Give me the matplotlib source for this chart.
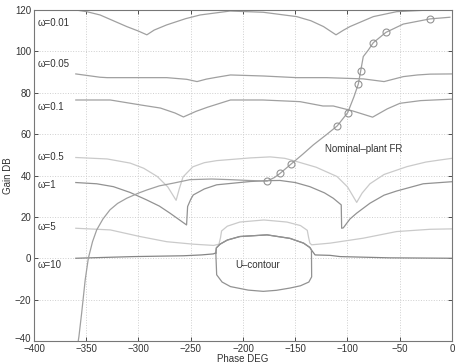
import matplotlib
matplotlib.use("Agg")
import matplotlib.pyplot as plt
import matplotlib.transforms as mtransforms

plt.rcParams['font.family'] = ['Liberation Sans', 'DejaVu Sans']

# ---- data (phase deg, gain dB) ----
w001_ph = [-360, -349.6, -336.8, -311.3, -300, -292, -285, -273, -255, -241, -212.4, -180.6, -148.6, -135, -123, -111, -104, -97.6, -75.3, -52.9, -21, 0]
w001_g  = [120, 119.2, 117.6, 112, 109.8, 108, 110.3, 112.8, 115.8, 117.6, 119.5, 118.9, 116.8, 114.8, 112, 108, 110.2, 112, 116.8, 119.2, 120, 120]

w005_ph = [-360, -336.8, -330, -300, -273, -253.9, -244, -235, -225, -212, -180.6, -148.6, -120, -84.9, -65, -55, -46.6, -33, -21, 0]
w005_g  = [89.1, 87.5, 87.3, 87.3, 87.3, 86.5, 85.4, 86.6, 87.5, 88.6, 88.1, 87.3, 87.3, 86.7, 85.4, 86.7, 87.8, 88.6, 89, 89.1]

w01_ph = [-360, -327, -298, -279, -265, -257, -245, -234, -212, -181, -145.5, -123.5, -113.6, -95, -76, -62, -49.8, -30, 0]
w01_g  = [76.5, 76.5, 74.1, 72.6, 70.2, 68.3, 71, 73, 76.5, 76.5, 75.7, 73.6, 73.6, 71.2, 68.2, 72.2, 74.9, 76.2, 76.9]

w05_ph = [-360, -330, -308, -295, -282, -272, -264, -261, -257.4, -248, -237, -225, -193, -174, -160, -151.7, -130, -110, -100, -91.2, -86, -78.5, -65, -43, -25, -11.5, 0]
w05_g  = [48.7, 48.0, 46.0, 43.5, 39.5, 34.5, 28.0, 33.5, 39.3, 44.2, 46.2, 47.2, 48.5, 49.0, 48.3, 47.2, 44.0, 39.5, 34.5, 27.0, 31.5, 36.0, 40.5, 44.3, 46.5, 47.5, 48.3]

w1_ph = [-360, -340, -324, -308, -292.2, -280, -269.9, -254, -253, -250, -247.6, -237, -225.2, -193, -177, -164.6, -150, -136, -122, -113.6, -106, -105.6, -104, -97.6, -91.2, -78.5, -65, -53, -27.5, 0]
w1_g  = [36.6, 36.0, 34.6, 31.8, 28.2, 25.2, 21.8, 16.1, 25.0, 28.5, 30.6, 33.5, 35.5, 37.1, 37.5, 37.6, 36.6, 34.6, 31.6, 29.0, 25.8, 14.5, 14.7, 19.0, 21.8, 26.6, 30.5, 32.5, 36.0, 37.0]

w5_ph = [-360, -327, -298.6, -273, -247.6, -228, -223, -221.5, -220.5, -215, -203, -180, -158, -145, -138.5, -137.2, -136, -134.3, -116.7, -84.9, -53, -21, 0]
w5_g  = [14.5, 13.7, 10.5, 8.0, 6.8, 6.2, 6.8, 10.0, 13.2, 15.5, 17.5, 18.5, 17.5, 15.8, 13.5, 10.0, 7.3, 6.5, 7.3, 9.7, 12.9, 14.0, 14.2]

w10_ph = [-360, -305, -257, -240, -228.4, -226, -225.5, -222, -215, -203, -177, -155, -142, -136, -134.5, -131, -116.7, -107, -60, 0]
w10_g  = [0.0, 0.8, 1.2, 1.6, 2.1, 2.6, 5.0, 6.8, 8.8, 10.5, 11.3, 9.6, 7.3, 5.2, 4.0, 1.6, 1.4, 0.8, 0.2, 0.0]

u_ph = [-226, -225.5, -222, -215, -203, -177, -155, -142, -136, -134.5, -134.3, -137, -145, -155, -168, -180.6, -195, -212, -220, -225.2, -226]
u_g  = [2.5, 5.0, 6.8, 8.8, 10.5, 11.3, 9.6, 7.3, 5.2, 4.0, -9.0, -11.5, -13.3, -14.4, -15.5, -16.0, -15.4, -13.7, -11.5, -8.0, 2.5]

nom_ph = [-357.8, -357, -354.4, -351, -348, -344, -340, -334, -327.3, -320, -311.3, -300, -292, -280, -266.7, -250.7, -230, -212.4, -195, -177, -170, -164.6, -154.3, -143, -132.7, -120, -109.8, -99.8, -93.8, -89.6, -87.4, -84.9, -80, -75.3, -63.2, -46.6, -21, -2]
nom_g  = [-40.5, -37.8, -26.5, -10.4, 0.0, 8.0, 13.7, 19.0, 23.4, 26.5, 29.0, 31.5, 33.0, 35.0, 36.3, 38.0, 38.3, 38.0, 37.6, 37.3, 39.0, 41.0, 45.4, 50.2, 54.8, 59.8, 64.0, 70.4, 78.1, 84.3, 90.5, 97.5, 100.7, 104.2, 109.2, 113.2, 115.7, 116.5]

mark_ph = [-176.7, -164.6, -154.3, -109.8, -99.8, -89.6, -87.4, -75.3, -63.2, -21]
mark_g  = [37.1, 41.0, 45.4, 64.0, 70.4, 84.3, 90.5, 104.2, 109.2, 115.7]

labels = ["ω=0.01", "ω=0.05", "ω=0.1", "ω=0.5", "ω=1", "ω=5", "ω=10"]
label_g = [113.5, 94, 73, 49, 35.5, 15, -3.5]

xticks = [-400, -350, -300, -250, -200, -150, -100, -50, 0]
yticks = [-40, -20, 0, 20, 40, 60, 80, 100, 120]

# ---- figure ----
fig = plt.figure(figsize=(4.6, 3.64), dpi=100)
ax = fig.add_axes([34/460, 1-341/364, (452-34)/460, (341-10)/364])

lw = 0.9
dark = '#a0a0a0'
light = '#cacaca'
ax.plot(w001_ph, w001_g, color=dark, lw=lw)
ax.plot(w005_ph, w005_g, color=dark, lw=lw)
ax.plot(w01_ph, w01_g, color=dark, lw=lw)
ax.plot(w05_ph, w05_g, color=light, lw=lw)
ax.plot(w1_ph, w1_g, color='#929292', lw=lw)
ax.plot(w5_ph, w5_g, color=light, lw=lw)
ax.plot(w10_ph, w10_g, color='#858585', lw=lw)
ax.plot(u_ph, u_g, color='#929292', lw=lw)
ax.plot(nom_ph, nom_g, color=dark, lw=lw)
ax.plot(mark_ph, mark_g, linestyle='none', marker='o', markersize=5,
        markerfacecolor='none', markeredgecolor='#939393', markeredgewidth=0.8)

tc = '#333333'
for lab, g in zip(labels, label_g):
    ax.text(-397, g, lab, fontsize=7, color=tc, va='center', ha='left')
ax.text(-121.5, 52.8, "Nominal\u2013plant FR", fontsize=7, color=tc, va='center', ha='left')
ax.text(-207.7, -3.2, "U\u2013contour", fontsize=7, color=tc, va='center', ha='left')

ax.set_xlim(-400, 0)
ax.set_ylim(-40, 120)
ax.set_xticks(xticks)
ax.set_yticks(yticks)
ax.tick_params(direction='in', top=True, right=True, labelsize=7, colors='#333333',
               length=3, width=0.6, pad=2)
ax.grid(True, linestyle=':', color='#cfcfcf', linewidth=0.7)
for s in ax.spines.values():
    s.set_color('#777777')
    s.set_linewidth(0.8)
ax.set_xlabel("Phase DEG", fontsize=7, color=tc, labelpad=0)
ax.set_ylabel("Gain DB", fontsize=7, color=tc, labelpad=1)

# nudge the lowest y tick label up a bit so it does not collide with "-400"
fig.canvas.draw()
ylabs = ax.get_yticklabels()
off = mtransforms.ScaledTranslation(0, 3/100, fig.dpi_scale_trans)
ylabs[0].set_transform(ylabs[0].get_transform() + off)

fig.savefig("out.png", dpi=100)
